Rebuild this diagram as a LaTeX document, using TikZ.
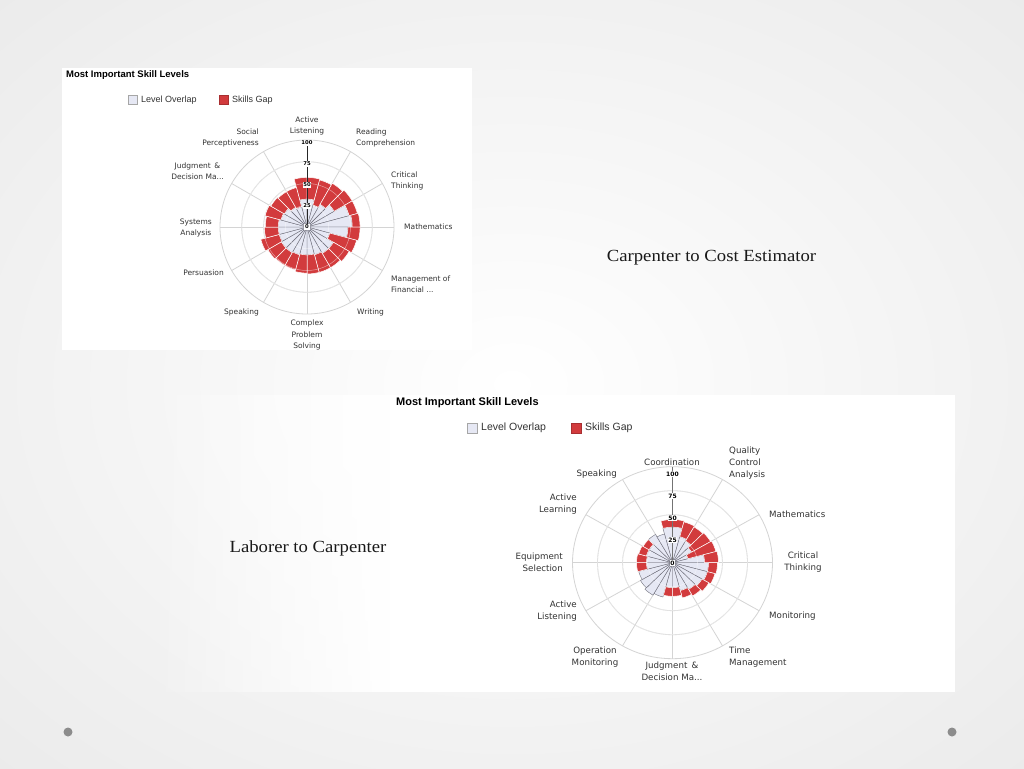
\documentclass[tikz,border=0pt]{standalone}
\usepackage{fontspec}
\usetikzlibrary{fadings}
\setmainfont{Liberation Serif}
\newfontfamily\capfont[FakeStretch=1.1]{Liberation Serif}
\newfontfamily\labfont{DejaVu Sans}
\newfontfamily\arialfont{Liberation Sans}
\definecolor{lav}{HTML}{E6E8F4}
\definecolor{gapred}{HTML}{D23B3D}
\definecolor{gridc}{HTML}{D4D4D4}
\definecolor{spoke}{HTML}{6E6E7A}
\definecolor{dotc}{HTML}{8C8C8C}
\definecolor{bgout}{HTML}{DEDEDE}
\definecolor{txt}{HTML}{333333}
\tikzset{
  labA/.style={font=\labfont\fontsize{7.5}{11.5}\selectfont, inner sep=0pt, text=txt},
  labB/.style={font=\labfont\fontsize{8.7}{11.8}\selectfont, inner sep=0pt, text=txt},
  valA/.style={font=\labfont\bfseries\fontsize{5.3}{6}\selectfont, fill=white, inner sep=0.7pt, text=black},
  valB/.style={font=\labfont\bfseries\fontsize{6}{7}\selectfont, fill=white, inner sep=0.8pt, text=black},
  titleA/.style={font=\arialfont\bfseries\fontsize{9.5}{11}\selectfont, inner sep=0pt, anchor=west},
  titleB/.style={font=\arialfont\bfseries\fontsize{11}{13}\selectfont, inner sep=0pt, anchor=west},
  legA/.style={font=\arialfont\fontsize{9}{10}\selectfont, inner sep=0pt, anchor=west, text=txt},
  legB/.style={font=\arialfont\fontsize{10.5}{12}\selectfont, inner sep=0pt, anchor=west, text=txt},
  lavbox/.style={fill=lav, draw=gray!70, line width=0.5pt},
  redbox/.style={fill=gapred, draw=gapred!80!black, line width=0.3pt},
  gridline/.style={gridc, line width=0.8pt},
  lavwedge/.style={fill=lav, draw=spoke, line width=0.4pt, line join=round},
  redwedge/.style={fill=gapred, draw=white, line width=0.5pt},
  caption/.style={font=\capfont\fontsize{17}{20}\selectfont, inner sep=0pt, text=black!90}
}
\newcommand{\polarchart}[2]{%
  \foreach \r in {25,50,75,100} \draw[gridline] (0,0) circle[radius=\r];
  \foreach \t in {0,30,...,330} \draw[gridline] (0,0) -- (\t:100);
  \foreach \a/\l/\g in {#1} {
    \pgfmathsetmacro\ma{\a+3.75}\pgfmathsetmacro\mb{\a+7.5}%
    \pgfmathsetmacro\mc{\a+11.25}\pgfmathsetmacro\b{\a+15}%
    \fill[lavwedge] (0,0) -- (\a:\l) -- (\ma:\l) -- (\mb:\l) -- (\mc:\l) -- (\b:\l) -- cycle;
  }
  \foreach \a/\l/\g in {#1} {
    \pgfmathsetmacro\ma{\a+3.75}\pgfmathsetmacro\mb{\a+7.5}%
    \pgfmathsetmacro\mc{\a+11.25}\pgfmathsetmacro\b{\a+15}%
    \pgfmathtruncatemacro\hr{\g>\l}%
    \ifnum\hr=1
      \fill[redwedge] (\a:\l) -- (\ma:\l) -- (\mb:\l) -- (\mc:\l) -- (\b:\l) -- (\b:\g) -- (\mc:\g) -- (\mb:\g) -- (\ma:\g) -- (\a:\g) -- cycle;
    \fi
  }
  \foreach \r in {25,50,75} \draw[white, opacity=0.5, line width=0.5pt] (0,0) circle[radius=\r];
  \draw[#2] (0,0) -- (0,100);
}
\begin{document}
\begin{tikzpicture}[x=1pt,y=-1pt]
\useasboundingbox (0,0) rectangle (1024,768);
\shade[inner color=white, outer color=bgout] (-700,-520) rectangle (1724,1288);
\fill[white] (62,68) rectangle (472,350);
\fill[white, path fading=west] (150,395) rectangle (391,692);
\fill[white] (390,395) rectangle (955,692);
\fill[dotc] (68,732) circle[radius=4.5];
\fill[dotc] (952,732) circle[radius=4.5];

% ---------- chart 1 ----------
\node[titleA] (t1) at (66,75.5) {Most Important Skill Levels};
\fill[lavbox] (128,95.5) rectangle (137,104);
\node[legA] (l1a) at (141,100) {Level Overlap};
\fill[redbox] (219,95.5) rectangle (228,104);
\node[legA] (l1b) at (232,100) {Skills Gap};
\begin{scope}[shift={(307,227)}, xscale=0.87, yscale=-0.87]
\polarchart{90/32/57, 75/32/57, 60/26/56, 45/30/58, 30/36/60, 15/50/60, 0/52/61, -15/47/61, -30/27/59, -45/35/56, -60/35/54, -75/33/54, -90/32/54, -105/32/53, -120/33/51, -135/34/51, -150/34/52, -165/33/55, 180/33/49, 165/33/48, 150/31/50, 135/30/48, 120/26/47, 105/24/47}{black!85, line width=1pt}
\end{scope}
\node[valA] (v1a) at (307,227) {0};
\node[valA] (v1b) at (307,206) {25};
\node[valA] (v1c) at (307,185) {50};
\node[valA] (v1d) at (307,164) {75};
\node[valA] (v1e) at (307,143) {100};
\node[labA, align=center] (c1a) at (307,126) {Active\\Listening};
\node[labA, align=left, anchor=west] (c1b) at (356,138) {Reading\\Comprehension};
\node[labA, align=left, anchor=west] (c1c) at (391,181) {Critical\\Thinking};
\node[labA, anchor=west] (c1d) at (404,227) {Mathematics};
\node[labA, align=left, anchor=west] (c1e) at (391,284) {Management of\\Financial ...};
\node[labA, anchor=west] (c1f) at (357,312) {Writing};
\node[labA, align=center] (c1g) at (307,335) {Complex\\Problem\\Solving};
\node[labA, anchor=east] (c1h) at (259,312) {Speaking};
\node[labA, anchor=east] (c1i) at (224,273) {Persuasion};
\node[labA, align=center, anchor=east] (c1j) at (212,228) {Systems\\Analysis};
\node[labA, align=center, anchor=east] (c1k) at (224,171) {Judgment \,\&\\Decision Ma...};
\node[labA, align=right, anchor=east] (c1l) at (259,138) {Social\\Perceptiveness};

% ---------- chart 2 ----------
\node[titleB] (t2) at (396,403) {Most Important Skill Levels};
\fill[lavbox] (467,423) rectangle (477,433);
\node[legB] (l2a) at (481,428) {Level Overlap};
\fill[redbox] (571,423) rectangle (581,433);
\node[legB] (l2b) at (585,428) {Skills Gap};
\begin{scope}[shift={(672.5,562.7)}, xscale=1, yscale=-0.96]
\polarchart{90/37/45, 75/37/45, 60/28/44, 45/26/43, 30/22/44, 15/16/45, 0/32/46, -15/36/45, -30/36/44, -45/34/42, -60/32/40, -75/30/38, -90/26/35, -105/26/35, -120/37/0, -135/39/0, -150/37/0, -165/35/0, 180/26/36, 165/26/36, 150/27/35, 135/27/34, 120/34/0, 105/31/0}{black!55, line width=1.4pt}
\end{scope}
\node[valB] (v2a) at (672.5,563) {0};
\node[valB] (v2b) at (672.5,540) {25};
\node[valB] (v2c) at (672.5,518) {50};
\node[valB] (v2d) at (672.5,496) {75};
\node[valB] (v2e) at (672.5,474) {100};
\node[labB] (c2a) at (672,462) {Coordination};
\node[labB, align=left, anchor=west] (c2b) at (729,463) {Quality\\Control\\Analysis};
\node[labB, anchor=west] (c2c) at (769,514) {Mathematics};
\node[labB, align=center] (c2d) at (803,562) {Critical\\Thinking};
\node[labB, anchor=west] (c2e) at (769,616) {Monitoring};
\node[labB, align=left, anchor=west] (c2f) at (729,657) {Time\\Management};
\node[labB, align=center] (c2g) at (672,671) {Judgment \,\&\\Decision Ma...};
\node[labB, align=center] (c2h) at (595,657) {Operation\\Monitoring};
\node[labB, align=right, anchor=east] (c2i) at (577,611) {Active\\Listening};
\node[labB, align=right, anchor=east] (c2j) at (563,562) {Equipment\\Selection};
\node[labB, align=right, anchor=east] (c2k) at (577,504) {Active\\Learning};
\node[labB, anchor=east] (c2l) at (617,474) {Speaking};

% ---------- captions ----------
\node[caption] (cap1) at (711.5,258) {Carpenter to Cost Estimator};
\node[caption] (cap2) at (308,548) {Laborer to Carpenter};
\end{tikzpicture}
\end{document}
